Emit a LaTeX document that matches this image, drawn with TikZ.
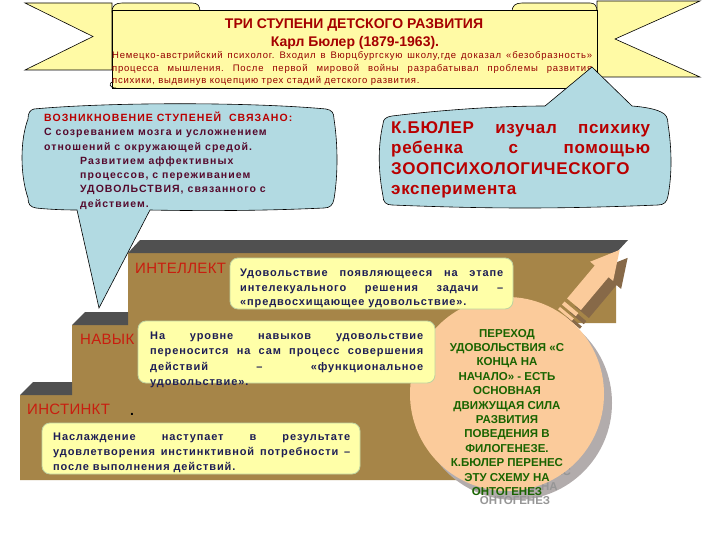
\documentclass[tikz,border=0pt]{standalone}
\usepackage{fontspec}
\setmainfont{Liberation Sans}
\newfontfamily\fBanner[LetterSpace=8]{Liberation Sans}
\newfontfamily\fBox[LetterSpace=8]{Liberation Sans}
\newfontfamily\fCall[LetterSpace=10]{Liberation Sans}
\newfontfamily\fBig[LetterSpace=4]{Liberation Sans}
\newfontfamily\fLab[LetterSpace=2]{Liberation Sans}
\definecolor{bandyellow}{RGB}{255,250,165}
\definecolor{boxyellow}{RGB}{255,255,168}
\definecolor{boxedge}{RGB}{190,210,160}
\definecolor{callblue}{RGB}{178,218,226}
\definecolor{stairbrown}{RGB}{166,133,72}
\definecolor{bevelgray}{RGB}{80,80,80}
\definecolor{peach}{RGB}{251,203,155}
\definecolor{arrowshadow}{RGB}{135,105,72}
\definecolor{shadowgray}{RGB}{178,172,172}
\definecolor{ghostgray}{RGB}{150,150,150}
\definecolor{darkred}{RGB}{150,0,0}
\definecolor{titlered}{RGB}{165,0,0}
\definecolor{callred}{RGB}{185,0,0}
\definecolor{maroontext}{RGB}{85,10,45}
\definecolor{navytext}{RGB}{30,30,85}
\definecolor{labelred}{RGB}{200,30,15}
\definecolor{circgreen}{RGB}{25,100,0}
\newcommand{\jline}[1]{\makebox[\linewidth][s]{#1}}
\newcommand{\circtext}{ПЕРЕХОД\\УДОВОЛЬСТВИЯ «С\\КОНЦА НА\\НАЧАЛО» - ЕСТЬ\\ОСНОВНАЯ\\ДВИЖУЩАЯ СИЛА\\РАЗВИТИЯ\\ПОВЕДЕНИЯ В\\ФИЛОГЕНЕЗЕ.\\К.БЮЛЕР ПЕРЕНЕС\\ЭТУ СХЕМУ НА\\ОНТОГЕНЕЗ}
\newcommand{\arrowshape}{(0,-9) rectangle (3,9) (6,-9) rectangle (10,9)
  (14,-9) -- (57,-9) -- (57,-15) -- (85,0) -- (57,15) -- (57,9) -- (14,9) -- cycle}
\tikzset{
  outl/.style={draw=black, line width=0.6pt},
  callout/.style={fill=callblue, draw=black, line width=0.6pt},
  ybox/.style={fill=boxyellow, draw=boxedge, line width=0.8pt, rounded corners=8pt},
  txt/.style={anchor=base west, inner sep=0pt},
}
\frenchspacing
\begin{document}
\begin{tikzpicture}[x=1pt,y=-1pt]
\useasboundingbox (0,0) rectangle (720,540);
\fill[white] (0,0) rectangle (720,540);

% ---------- staircase ----------
\fill[stairbrown] (20,395) -- (72,395) -- (72,325) -- (128,325) -- (128,253)
  -- (616,253) -- (616,323) -- (560,323) -- (545,480) -- (20,480) -- cycle;
\fill[bevelgray] (20,395) -- (33,382) -- (72,382) -- (72,395) -- cycle;
\fill[bevelgray] (72,325) -- (85,312) -- (128,312) -- (128,325) -- cycle;
\fill[bevelgray] (128,253) -- (140,240) -- (628,240) -- (616,253) -- cycle;

% ---------- arrow ----------
\begin{scope}[shift={(573,323)}, rotate=50]
  \fill[arrowshadow] \arrowshape;
\end{scope}
\begin{scope}[shift={(565,315)}, rotate=50]
  \fill[peach] \arrowshape;
\end{scope}

% ---------- circle ----------
\fill[shadowgray] (515,403) circle (97);
\node[anchor=base, inner sep=0pt, text=ghostgray, font=\bfseries] (ghost) at (515,346)
  {\parbox[t]{160pt}{\centering\fontsize{11.5}{14.4}\selectfont\circtext}};
\fill[peach] (507,394) circle (97);
\node[anchor=base, inner sep=0pt, text=circgreen, font=\bfseries] (circtxt) at (507,337)
  {\parbox[t]{160pt}{\centering\fontsize{11.5}{14.4}\selectfont\circtext}};

% ---------- yellow boxes ----------
\draw[ybox] (230,258) rectangle (513,309);
\node[txt, text=navytext] (intbox) at (240,276.5) {\parbox[t]{263pt}{\fBox\bfseries\fontsize{11}{14.5}\selectfont
\jline{Удовольствие появляющееся на этапе}\\
\jline{интелекуального решения задачи –}\\
«предвосхищающее удовольствие».}};

\draw[ybox] (138,321) rectangle (435,383);
\node[txt, text=navytext] (navbox) at (150,339.5) {\parbox[t]{273pt}{\fBox\bfseries\fontsize{11}{15.3}\selectfont
\jline{На уровне навыков удовольствие}\\
\jline{переносится на сам процесс совершения}\\
\jline{действий – «функциональное}\\
удовольствие».}};

\draw[ybox] (42,423) rectangle (360,474);
\node[txt, text=navytext] (insbox) at (53,440.5) {\parbox[t]{297pt}{\fBox\bfseries\fontsize{11}{15}\selectfont
\jline{Наслаждение наступает в результате}\\
\jline{удовлетворения инстинктивной потребности –}\\
после выполнения действий.}};

% ---------- step labels ----------
\node[txt, text=labelred, font=\fLab\fontsize{15}{17}\selectfont] (lint) at (135,273.5) {ИНТЕЛЛЕКТ};
\node[txt, text=labelred, font=\fLab\fontsize{15}{17}\selectfont] (lnav) at (80,344.5) {НАВЫК};
\node[txt, text=labelred, font=\fLab\fontsize{15}{17}\selectfont] (lins) at (27,414.5) {ИНСТИНКТ};
\node[txt, text=black, font=\bfseries\fontsize{14}{16}\selectfont] (ldot) at (130,415) {.};

% ---------- banner ----------
\filldraw[fill=bandyellow, outl] (25,3) -- (112,3) -- (112,70) -- (25,70) -- (93,36.5) -- cycle;
\filldraw[fill=bandyellow, outl] (597,1) -- (700,1) -- (615,39) -- (700,77) -- (597,77) -- cycle;
\filldraw[fill=bandyellow, outl] (112,12) .. controls (112,6) and (115,3) .. (122,3) -- (192,3)
  .. controls (198,3) and (200,6) .. (200,12) -- cycle;
\filldraw[fill=bandyellow, outl] (512,12) .. controls (512,6) and (515,3) .. (522,3) -- (590,3)
  .. controls (595,3) and (597,6) .. (597,12) -- cycle;
\filldraw[fill=bandyellow, outl] (112,10) -- (597,10) -- (597,88) -- (112,88) -- cycle;
\draw[outl] (112,82) .. controls (109,83) and (109,88) .. (116,88);
\draw[outl] (597,82) .. controls (600,83) and (600,88) .. (593,88);

\node[anchor=base, inner sep=0pt, text=titlered, font=\bfseries\fontsize{14}{16}\selectfont] (title) at (354,29)
  {ТРИ СТУПЕНИ ДЕТСКОГО РАЗВИТИЯ};
\node[anchor=base, inner sep=0pt, text=titlered, font=\bfseries\fontsize{14}{16}\selectfont] (author) at (355,46.5)
  {Карл Бюлер (1879-1963).};
\node[txt, text=darkred] (bio) at (112,59) {\parbox[t]{480pt}{\fBanner\fontsize{9.5}{12.5}\selectfont
\jline{Немецко-австрийский психолог. Входил в Вюрцбургскую школу,где доказал «безобразность»}\\
\jline{процесса мышления. После первой мировой войны разрабатывал проблемы развития}\\
психики, выдвинув коцепцию трех стадий детского развития.}};

% ---------- left callout ----------
\draw[callout] (34,109) .. controls (110,102) and (250,102) .. (326,109)
  .. controls (332,110) and (334,113) .. (334,119)
  .. controls (338,145) and (338,175) .. (334,199)
  .. controls (333,205) and (330,208) .. (324,208)
  .. controls (260,211) and (200,211) .. (150,210)
  -- (99,308) -- (77,210)
  .. controls (60,210) and (45,209) .. (36,208)
  .. controls (30,207) and (28,204) .. (28,198)
  .. controls (20,175) and (20,140) .. (28,119)
  .. controls (28,113) and (30,110) .. (34,109) -- cycle;
\node[txt, text=maroontext] (ctext) at (44,121.5) {\parbox[t]{290pt}{\fCall\bfseries\fontsize{10.5}{14.3}\selectfont
\textcolor{callred}{ВОЗНИКНОВЕНИЕ СТУПЕНЕЙ \ СВЯЗАНО:}\\
С созреванием мозга и усложнением\\
отношений с окружающей средой.\\
\hspace*{36pt}Развитием аффективных\\
\hspace*{36pt}процессов, с переживанием\\
\hspace*{36pt}УДОВОЛЬСТВИЯ, связанного с\\
\hspace*{36pt}действием.}};

% ---------- right callout ----------
\draw[callout] (392,116) .. controls (450,109) and (505,106) .. (545,106) -- (592,67) -- (632,106)
  .. controls (645,107) and (655,109) .. (661,112)
  .. controls (666,114) and (668,118) .. (668,124)
  .. controls (672,150) and (672,175) .. (668,196)
  .. controls (667,202) and (664,205) .. (658,205)
  .. controls (560,209) and (490,209) .. (392,205)
  .. controls (386,205) and (383,202) .. (383,196)
  .. controls (378,170) and (378,145) .. (383,124)
  .. controls (383,119) and (386,117) .. (392,116) -- cycle;
\node[txt, text=callred] (rtext) at (391,133.5) {\parbox[t]{259pt}{\fBig\bfseries\fontsize{17}{20.4}\selectfont
\jline{К.БЮЛЕР изучал психику}\\
\jline{ребенка с помощью}\\
ЗООПСИХОЛОГИЧЕСКОГО\\
эксперимента}};
\end{tikzpicture}
\end{document}
